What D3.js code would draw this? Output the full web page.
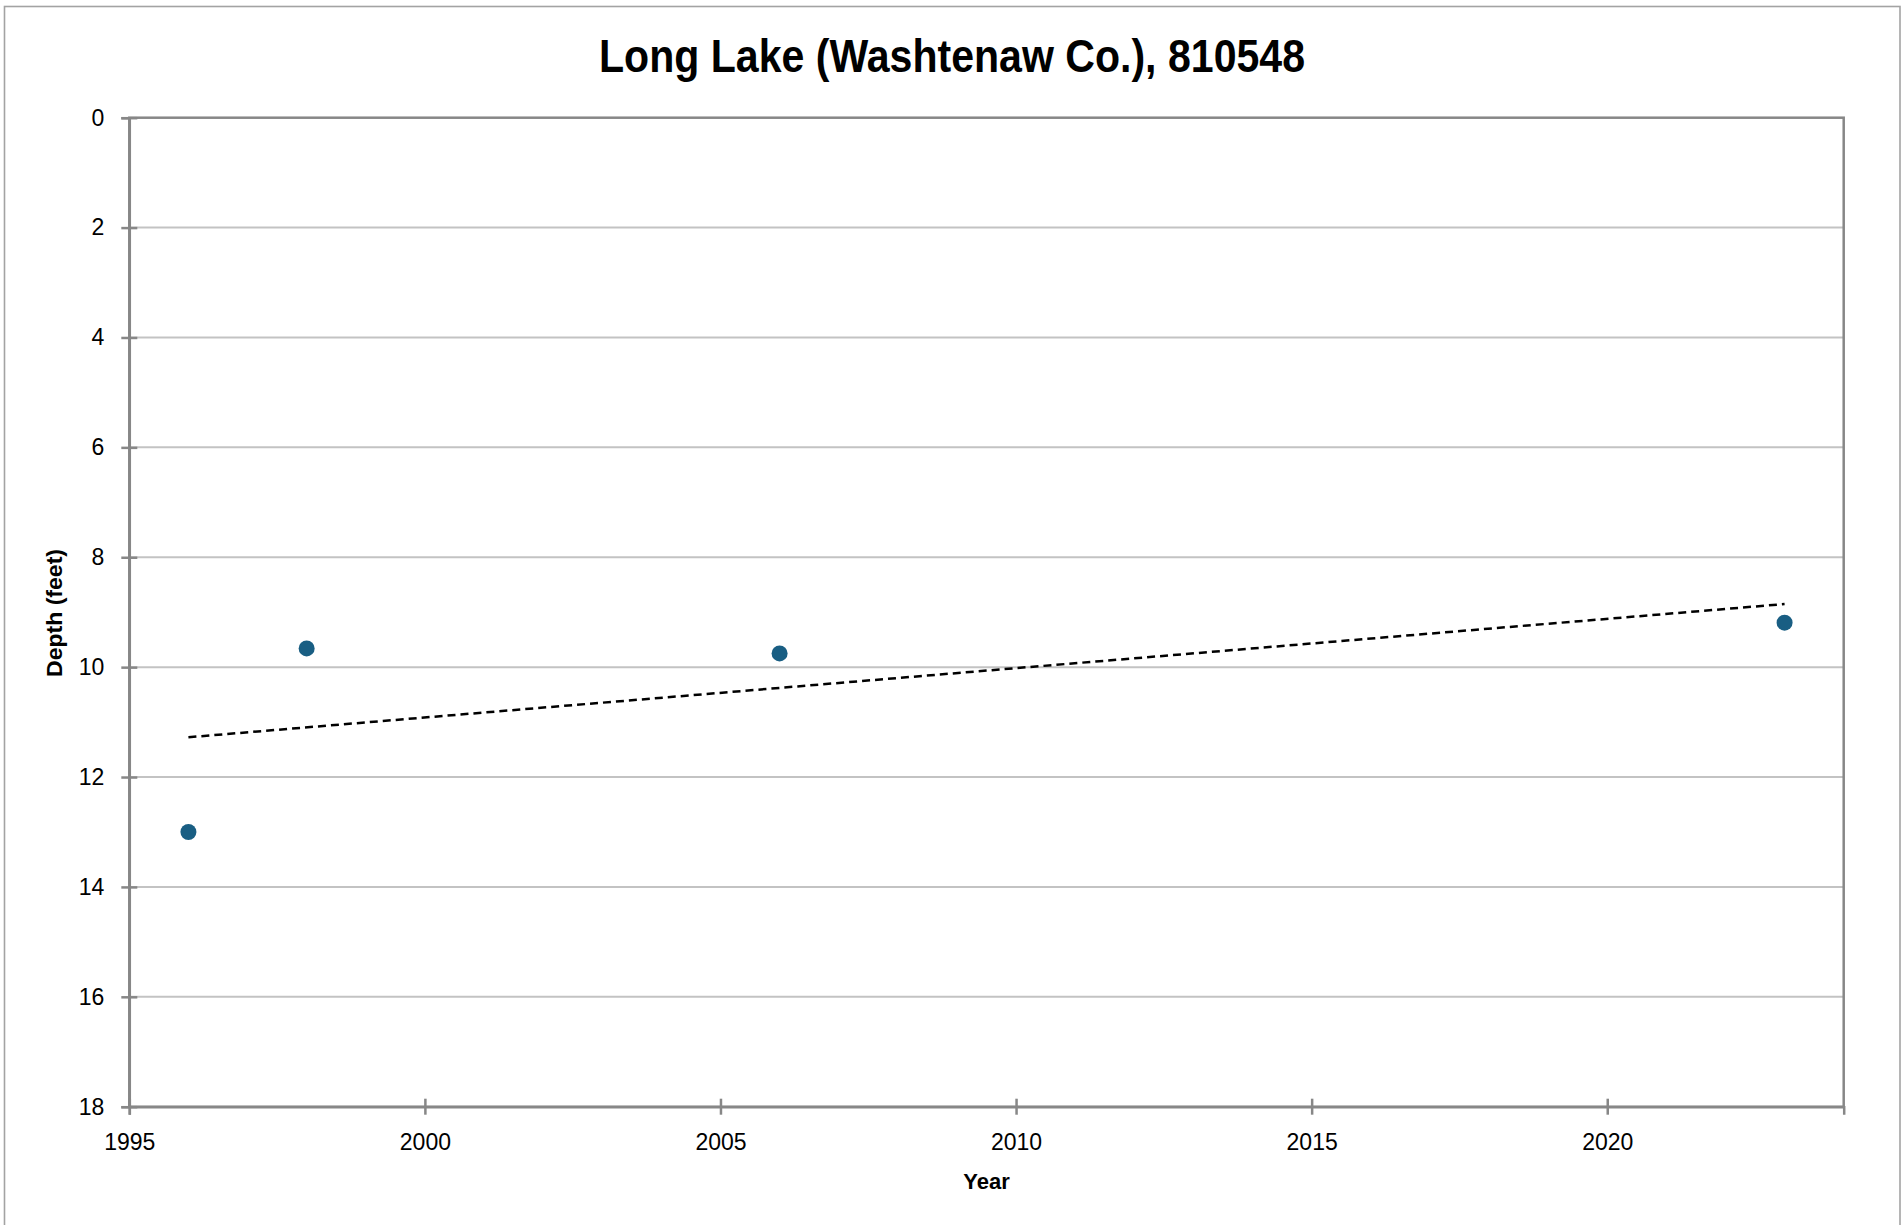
<!DOCTYPE html>
<html>
<head>
<meta charset="utf-8">
<script src="https://cdn.jsdelivr.net/npm/d3@7"></script>
<style>
  html, body { margin: 0; padding: 0; background: #fff; }
  svg { display: block; }
</style>
</head>
<body>
<svg id="chart" width="1904" height="1225"></svg>
<script>
// ---- data ----
const years = [1996, 1998, 2006, 2023];
const depths = [13.0, 9.66, 9.75, 9.19];
const yTicks = [0, 2, 4, 6, 8, 10, 12, 14, 16, 18];
const xTicks = [1995, 2000, 2005, 2010, 2015, 2020];
const titleText = "Long Lake (Washtenaw Co.), 810548";
const xTitle = "Year";
const yTitle = "Depth (feet)";

// ---- layout ----
const svg = d3.select("#chart");
const L = 129.3, R = 1843.7, T = 117.7, B = 1106.7;
const x = d3.scaleLinear().domain([1995, 2024]).range([L, R]);
const y = d3.scaleLinear().domain([0, 18]).range([T, B]);

const gray = "#878787";

// outer border
svg.append("rect").attr("x", 4.5).attr("y", 6.5).attr("width", 1895.5).attr("height", 1260)
  .attr("fill", "none").attr("stroke", "#a3a3a3").attr("stroke-width", 1.6);

// gridlines
svg.append("g").selectAll("line").data(yTicks.filter(d => d > 0 && d < 18)).join("line")
  .attr("x1", L).attr("x2", R).attr("y1", d => y(d)).attr("y2", d => y(d))
  .attr("stroke", "#c3c3c3").attr("stroke-width", 2);

// plot frame
svg.append("rect").attr("x", L).attr("y", T).attr("width", R - L).attr("height", B - T)
  .attr("fill", "none").attr("stroke", gray).attr("stroke-width", 2.5);

// y axis
const yAxis = svg.append("g").attr("transform", `translate(${L},0)`)
  .call(d3.axisLeft(y).tickValues(yTicks).tickSize(8).tickPadding(17).tickFormat(d3.format("d")));
yAxis.select(".domain").attr("stroke", gray).attr("stroke-width", 2.5);
yAxis.selectAll(".tick line").attr("x1", 8).attr("x2", -8).attr("stroke", gray).attr("stroke-width", 2.5);
yAxis.selectAll(".tick text").attr("font-family", "'Liberation Sans', Arial, sans-serif")
  .attr("font-size", 23).attr("fill", "#000");

// x axis
const xAxis = svg.append("g").attr("transform", `translate(0,${B})`)
  .call(d3.axisBottom(x).tickValues(xTicks).tickSize(8).tickPadding(19).tickFormat(d3.format("d")));
xAxis.select(".domain").attr("stroke", gray).attr("stroke-width", 2.5);
xAxis.selectAll(".tick line").attr("y1", -8).attr("y2", 8).attr("stroke", gray).attr("stroke-width", 2.5);
xAxis.selectAll(".tick text").attr("font-family", "'Liberation Sans', Arial, sans-serif")
  .attr("font-size", 23).attr("fill", "#000");

// trendline (least squares)
const mx = d3.mean(years), my = d3.mean(depths);
const sxy = d3.sum(years.map((v, i) => (v - mx) * (depths[i] - my)));
const sxx = d3.sum(years.map(v => (v - mx) * (v - mx)));
const slope = sxy / sxx, icpt = my - slope * mx;
const x0 = d3.min(years), x1 = d3.max(years);
svg.append("line")
  .attr("x1", x(x0)).attr("y1", y(icpt + slope * x0))
  .attr("x2", x(x1)).attr("y2", y(icpt + slope * x1))
  .attr("stroke", "#000").attr("stroke-width", 2.5).attr("stroke-dasharray", "8,5");

// points
svg.append("g").selectAll("circle").data(years).join("circle")
  .attr("cx", d => x(d)).attr("cy", (d, i) => y(depths[i])).attr("r", 8)
  .attr("fill", "#195e83");

// title
svg.append("text").attr("x", 952).attr("y", 72).attr("text-anchor", "middle")
  .attr("font-family", "'Liberation Sans Narrow', 'Arial Narrow', 'Liberation Sans', sans-serif")
  .attr("font-weight", "bold").attr("font-size", 46)
  .attr("textLength", 706).attr("lengthAdjust", "spacingAndGlyphs")
  .text(titleText);

// axis titles
svg.append("text").attr("x", (L + R) / 2).attr("y", 1189).attr("text-anchor", "middle")
  .attr("font-family", "'Liberation Sans', Arial, sans-serif").attr("font-weight", "bold")
  .attr("font-size", 22).text(xTitle);

svg.append("text").attr("transform", "translate(62,613) rotate(-90)").attr("text-anchor", "middle")
  .attr("font-family", "'Liberation Sans', Arial, sans-serif").attr("font-weight", "bold")
  .attr("font-size", 22).attr("textLength", 128).attr("lengthAdjust", "spacingAndGlyphs")
  .text(yTitle);
</script>
</body>
</html>
